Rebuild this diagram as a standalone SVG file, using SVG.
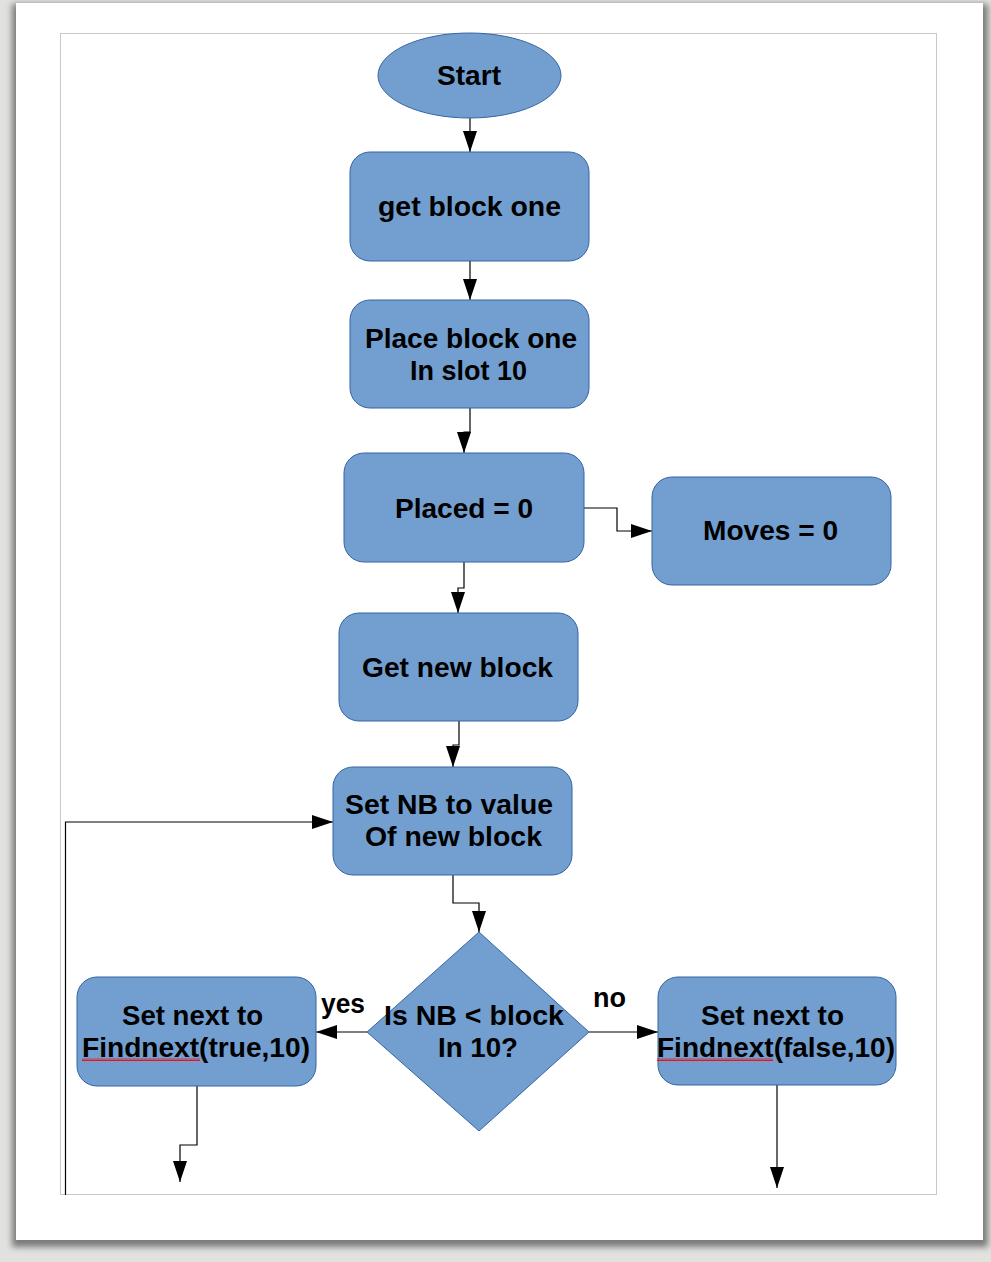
<svg xmlns="http://www.w3.org/2000/svg" width="991" height="1262" viewBox="0 0 991 1262">
<defs>
<marker id="ah" markerUnits="userSpaceOnUse" markerWidth="21" markerHeight="14" refX="21" refY="7" orient="auto">
<path d="M0,0 L21,7 L0,14 z" fill="#000"/>
</marker>
<filter id="sh" x="-5%" y="-5%" width="110%" height="110%"><feGaussianBlur stdDeviation="3"/></filter>
<pattern id="wave" width="4" height="3" patternUnits="userSpaceOnUse"><path d="M0,2.5 L1,0.5 L2,2.5 L3,0.5 L4,2.5" fill="none" stroke="#f00" stroke-width="0.9"/></pattern>
</defs>
<style>
.shape{fill:#729fcf;stroke:#3465a4;stroke-width:1}
.t{font-family:"Liberation Sans",Arial,sans-serif;font-weight:bold;font-size:27px;fill:#000;text-anchor:middle}
.c{fill:none;stroke:#000;stroke-width:1.2}
.ca{fill:none;stroke:#000;stroke-width:1.2;marker-end:url(#ah)}
</style>
<rect x="0" y="0" width="991" height="1262" fill="#e1e1df"/>
<rect x="12" y="4" width="976" height="1243" fill="#7a7a7a" filter="url(#sh)"/>
<rect x="16" y="3" width="967" height="1237" fill="#fff"/>
<rect x="60.5" y="33.5" width="876" height="1161" fill="none" stroke="#c8c8c8" stroke-width="1"/>

<g id="connectors">
<path class="ca" d="M470,118 V152"/>
<path class="ca" d="M470,261 V300"/>
<path class="ca" d="M470,408 V432 H464 V453"/>
<path class="ca" d="M584,508 H617 V531 H652"/>
<path class="ca" d="M464,562 V588 H458 V613"/>
<path class="ca" d="M459,721 V745 H453 V767"/>
<path class="ca" d="M453,875 V903 H479 V932"/>
<path class="ca" d="M367,1032 H316"/>
<path class="ca" d="M589,1032 H658"/>
<path class="ca" d="M197,1086 V1145 H180 V1182"/>
<path class="ca" d="M777,1085 V1188"/>
<path class="ca" d="M65.5,1195 V822 H333"/>
</g>

<g id="start">
<ellipse class="shape" cx="469.5" cy="75.5" rx="91.5" ry="42.5"/>
<text class="t" x="469" y="85" textLength="64" lengthAdjust="spacingAndGlyphs">Start</text>
</g>
<g id="get-block-one">
<rect class="shape" x="350" y="152" width="239" height="109" rx="20"/>
<text class="t" x="469.5" y="216" textLength="183" lengthAdjust="spacingAndGlyphs">get block one</text>
</g>
<g id="place-block-one">
<rect class="shape" x="350" y="300" width="239" height="108" rx="20"/>
<text class="t" x="471" y="348" textLength="212" lengthAdjust="spacingAndGlyphs">Place block one</text>
<text class="t" x="468.5" y="380" textLength="117" lengthAdjust="spacingAndGlyphs">In slot 10</text>
</g>
<g id="placed">
<rect class="shape" x="344" y="453" width="240" height="109" rx="20"/>
<text class="t" x="464" y="518" textLength="138" lengthAdjust="spacingAndGlyphs">Placed = 0</text>
</g>
<g id="moves">
<rect class="shape" x="652" y="477" width="239" height="108" rx="20"/>
<text class="t" x="770.5" y="540" textLength="135" lengthAdjust="spacingAndGlyphs">Moves = 0</text>
</g>
<g id="get-new-block">
<rect class="shape" x="339" y="613" width="239" height="108" rx="20"/>
<text class="t" x="457.5" y="677" textLength="191" lengthAdjust="spacingAndGlyphs">Get new block</text>
</g>
<g id="set-nb">
<rect class="shape" x="333" y="767" width="239" height="108" rx="20"/>
<text class="t" x="449" y="814" textLength="208" lengthAdjust="spacingAndGlyphs">Set NB to value</text>
<text class="t" x="453.5" y="846" textLength="177" lengthAdjust="spacingAndGlyphs">Of new block</text>
</g>
<g id="decision">
<polygon class="shape" points="479,932 589,1032 479,1131 367,1032"/>
<text class="t" x="474" y="1025" textLength="180" lengthAdjust="spacingAndGlyphs">Is NB &lt; block</text>
<text class="t" x="478" y="1057" textLength="80" lengthAdjust="spacingAndGlyphs">In 10?</text>
</g>
<g id="labels">
<text class="t" x="343" y="1013" textLength="44" lengthAdjust="spacingAndGlyphs">yes</text>
<text class="t" x="609.5" y="1007" textLength="33" lengthAdjust="spacingAndGlyphs">no</text>
</g>
<g id="set-next-true">
<rect class="shape" x="77" y="977" width="239" height="109" rx="20"/>
<text class="t" x="192.5" y="1025" textLength="141" lengthAdjust="spacingAndGlyphs">Set next to</text>
<text class="t" x="196" y="1057" textLength="228" lengthAdjust="spacingAndGlyphs">Findnext(true,10)</text>
<rect x="82" y="1058" width="118" height="3" fill="url(#wave)"/>
</g>
<g id="set-next-false">
<rect class="shape" x="658" y="977" width="238" height="108" rx="20"/>
<text class="t" x="772.5" y="1025" textLength="143" lengthAdjust="spacingAndGlyphs">Set next to</text>
<text class="t" x="776" y="1057" textLength="238" lengthAdjust="spacingAndGlyphs">Findnext(false,10)</text>
<rect x="657" y="1058" width="116" height="3" fill="url(#wave)"/>
</g>
</svg>
